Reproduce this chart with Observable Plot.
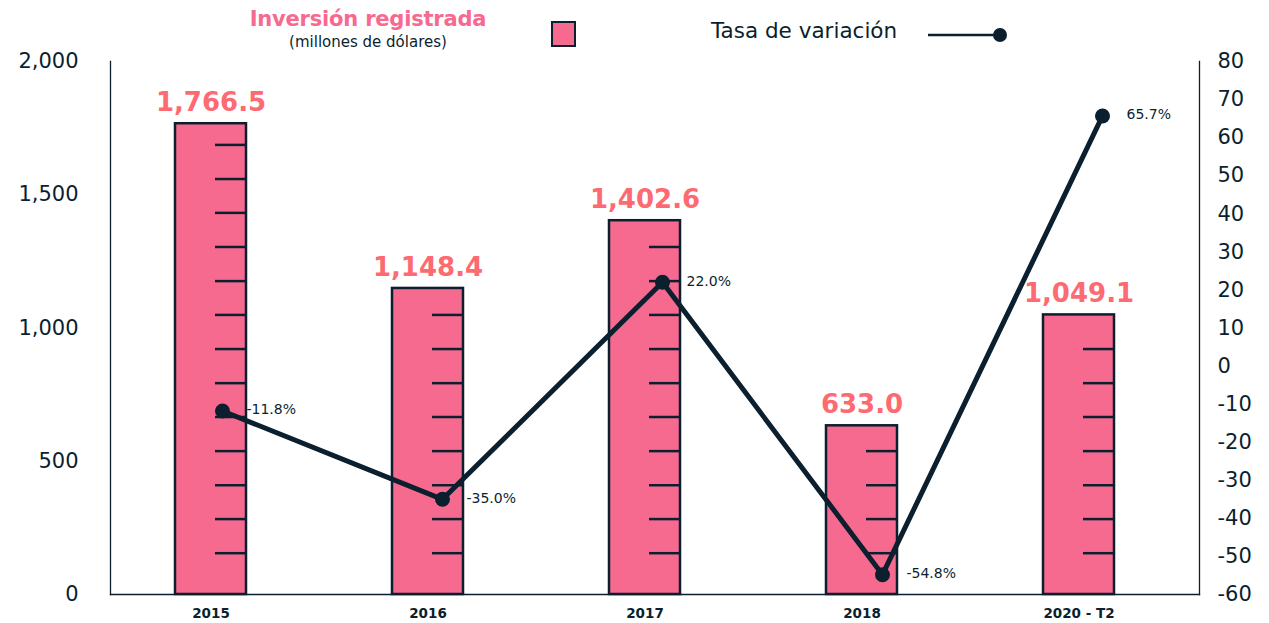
<!DOCTYPE html>
<html><head><meta charset="utf-8">
<script src="https://cdn.jsdelivr.net/npm/d3@7"></script>
<script src="https://cdn.jsdelivr.net/npm/@observablehq/plot@0.6"></script>
<style>
body{margin:0;background:#fff;font-family:"DejaVu Sans",sans-serif;color:#0b1f2e}
#header{position:relative;width:1269px;height:50px}
#t1{position:absolute;left:168px;width:400px;top:6px;line-height:26px;text-align:center;font-size:21px;font-weight:bold;color:#f7698f;letter-spacing:-0.2px}
#t2{position:absolute;left:168px;width:400px;top:34px;line-height:17px;text-align:center;font-size:15px;color:#0b1f2e}
#sq{position:absolute;left:551px;top:21px;width:25px;height:26px;box-sizing:border-box;border:2.5px solid #0b1f2e;background:#f76a8f}
#t3{position:absolute;left:711px;top:18px;line-height:26px;font-size:21.5px;color:#0b1f2e}
#lg{position:absolute;left:920px;top:25px}
#wrap{position:relative;width:1269px;height:573px}
#wrap > svg{position:absolute;left:0;top:0}
#overlay{pointer-events:none}
</style></head><body>
<div id="header">
  <div id="t1">Inversión registrada</div>
  <div id="t2">(millones de dólares)</div>
  <div id="sq"></div>
  <div id="t3">Tasa de variación</div>
  <svg id="lg" width="95" height="20"><line x1="8" y1="10" x2="80" y2="10" stroke="#0b1f2e" stroke-width="2.5"/><circle cx="80" cy="10" r="7" fill="#0b1f2e"/></svg>
</div>
<div id="wrap"></div>
<script>
const categories = ["2015", "2016", "2017", "2018", "2020 - T2"];
const inversion = [1766.5, 1148.4, 1402.6, 633.0, 1049.1];
const variacion = [-11.8, -35.0, 22.0, -54.8, 65.7];
const leftTicks = [0, 500, 1000, 1500, 2000];
const rightTicks = [-60, -50, -40, -30, -20, -10, 0, 10, 20, 30, 40, 50, 60, 70, 80];
const rulerTicks = [155, 283, 410, 538, 666, 793, 921, 1049, 1176, 1304, 1432, 1559, 1687];

const data = categories.map((c, i) => ({cat: c, inv: inversion[i], rate: variacion[i]}));
const ruler = data.flatMap(d => rulerTicks.filter(v => v < d.inv - 5).map(v => ({cat: d.cat, v})));

const dark = "#0b1f2e";
const fmt = d3.format(",.1f");

const common = {
  width: 1269,
  height: 573,
  marginLeft: 110,
  marginRight: 70,
  marginTop: 11,
  marginBottom: 29
};

const chart = Plot.plot({
  ...common,
  style: {fontFamily: "'DejaVu Sans', sans-serif", color: dark, background: "#fff"},
  x: {domain: categories, paddingInner: 0.674, paddingOuter: 0.34, align: 0.43},
  y: {domain: [0, 2000]},
  marks: [
    Plot.barY(data, {x: "cat", y: "inv", fill: "#f76a8f", stroke: dark, strokeWidth: 2.5}),
    Plot.tickY(ruler, {x: "cat", y: "v", stroke: dark, strokeWidth: 2.5, insetLeft: 40}),
    Plot.frame({anchor: "left", stroke: dark, strokeWidth: 1.3}),
    Plot.frame({anchor: "right", stroke: dark, strokeWidth: 1.3}),
    Plot.frame({anchor: "bottom", stroke: dark, strokeWidth: 1.3}),
    Plot.text(data, {x: "cat", y: "inv", text: d => fmt(d.inv), dy: -21, fontSize: 26, fontWeight: "bold", fill: "#fd6a72"}),
    Plot.axisY({anchor: "left", ticks: leftTicks, tickFormat: d3.format(","), tickSize: 0, tickPadding: 32, fontSize: 21, label: null}),
    Plot.axisX({tickSize: 0, tickPadding: 14, fontSize: 13.5, fontWeight: "bold", label: null})
  ]
});

const overlay = Plot.plot({
  ...common,
  style: {fontFamily: "'DejaVu Sans', sans-serif", color: dark, background: "transparent"},
  x: {type: "point", domain: categories, padding: 0.469, align: 0.536, axis: null},
  y: {domain: [-60, 80]},
  marks: [
    Plot.line(data, {x: "cat", y: "rate", stroke: dark, strokeWidth: 5}),
    Plot.dot(data, {x: "cat", y: "rate", r: 7.5, fill: dark}),
    Plot.text(data, {x: "cat", y: "rate", text: d => d.rate.toFixed(1) + "%", dx: 24, dy: -1, textAnchor: "start", fontSize: 14, fill: dark}),
    Plot.axisY({anchor: "right", ticks: rightTicks, tickFormat: d => String(d), tickSize: 0, tickPadding: 18, fontSize: 21, label: null})
  ]
});
overlay.id = "overlay";
const wrap = document.getElementById("wrap");
wrap.appendChild(chart);
wrap.appendChild(overlay);
</script>
</body></html>
